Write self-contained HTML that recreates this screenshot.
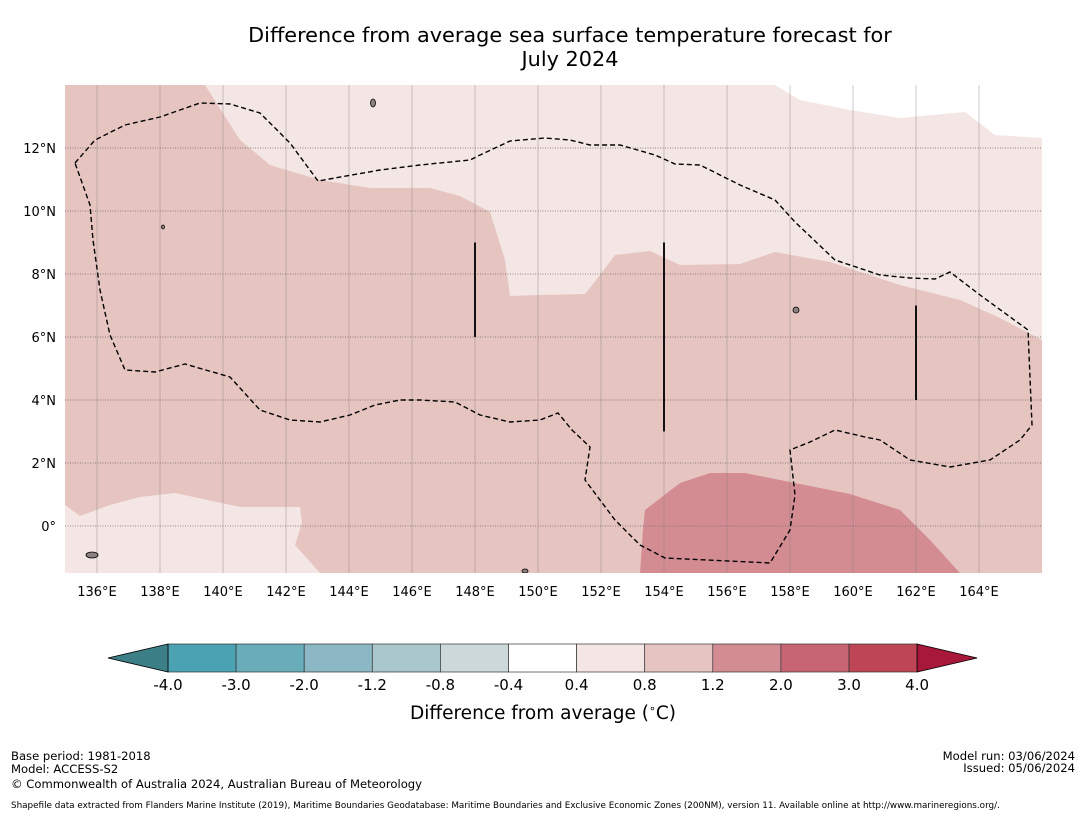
<!DOCTYPE html>
<html><head><meta charset="utf-8"><style>
body{margin:0;background:#fff;font-family:"Liberation Sans","DejaVu Sans",sans-serif;}
svg text{font-family:"DejaVu Sans","Liberation Sans",sans-serif;}
</style></head><body>
<svg id="s" width="1085" height="816" viewBox="0 0 1085 816" xmlns="http://www.w3.org/2000/svg">
<rect width="1085" height="816" fill="#fefefe"/>
<text x="570" y="42" font-size="20.8" text-anchor="middle">Difference from average sea surface temperature forecast for</text>
<text x="570" y="66" font-size="20.8" text-anchor="middle">July 2024</text>
<g id="map"></g>
<g id="cb"></g>
<text x="543" y="719" font-size="18.5" text-anchor="middle">Difference from average (<tspan font-size="11" dy="-7">∘</tspan><tspan dy="7">C)</tspan></text>
<g font-size="11.6">
<text x="11" y="760">Base period: 1981-2018</text>
<text x="11" y="773">Model: ACCESS-S2</text>
<text x="11" y="788">© Commonwealth of Australia 2024, Australian Bureau of Meteorology</text>
<text x="1075" y="760" text-anchor="end">Model run: 03/06/2024</text>
<text x="1075" y="772" text-anchor="end">Issued: 05/06/2024</text>
<text x="11" y="808" font-size="8.8">Shapefile data extracted from Flanders Marine Institute (2019), Maritime Boundaries Geodatabase: Maritime Boundaries and Exclusive Economic Zones (200NM), version 11. Available online at http://www.marineregions.org/.</text>
</g>
</svg>
<script>
const lonTicks=[136,138,140,142,144,146,148,150,152,154,156,158,160,162,164];
const latTicks=[12,10,8,6,4,2,0];
const cbBounds=[-4.0,-3.0,-2.0,-1.2,-0.8,-0.4,0.4,0.8,1.2,2.0,3.0,4.0];
const cbColors=["#4aa2b3","#69adbb","#8bb8c4","#a9c7cc","#cdd8da","#ffffff","#f4e6e4","#e6c5c1","#d48c93","#c86574","#bd4555"];
const X0=65,X1=1042,Y0=85,Y1=573;
const lon=v=>97+(v-136)*31.5;
const lat=v=>526-v*31.5;
const NS="http://www.w3.org/2000/svg";
const map=document.getElementById('map');
function mk(p,tag,attrs){const e=document.createElementNS(NS,tag);for(const k in attrs)e.setAttribute(k,attrs[k]);p.appendChild(e);return e;}
const clip=mk(map,'clipPath',{id:'mc'});mk(clip,'rect',{x:X0,y:Y0,width:X1-X0,height:Y1-Y0});
const g=mk(map,'g',{'clip-path':'url(#mc)'});
let e=mk(g,'rect',{x:X0,y:Y0,width:X1-X0,height:Y1-Y0,fill:'#e6c5c1'});

const pts=a=>a.map(p=>p.join(',')).join(' ');
e=mk(g,'polygon',{fill:'#f4e6e4',points:pts([[205,85],[240,140],[270,165],[320,180],[370,188],[430,188],[460,196],[490,212],[505,260],[510,296],[540,295],[585,294],[600,275],[615,255],[650,251],[680,265],[740,264],[775,252],[830,262],[900,285],[960,300],[1000,318],[1042,340],[1042,85]])});

e=mk(g,'polygon',{fill:'#ffffff',points:pts([[775,85],[800,100],[850,110],[900,118],[965,112],[995,135],[1042,138],[1042,85]])});

e=mk(g,'polygon',{fill:'#f4e6e4',points:pts([[65,505],[80,516],[110,505],[140,497],[175,493],[240,507],[300,507],[302,523],[295,545],[320,573],[65,573]])});

e=mk(g,'polygon',{fill:'#d48c93',points:pts([[645,510],[680,483],[710,473],[745,473],[790,482],[850,494],[900,510],[930,540],[960,573],[640,573],[643,530]])});

lonTicks.forEach(v=>{const l=mk(g,'line',{x1:lon(v),x2:lon(v),y1:Y0,y2:Y1,stroke:'#8a7f80','stroke-width':0.6,opacity:0.7});

const t=mk(map,'text',{x:lon(v),y:596,'font-size':13,'text-anchor':'middle'});t.textContent=v+'°E';
});
latTicks.forEach(v=>{const l=mk(g,'line',{x1:X0,x2:X1,y1:lat(v),y2:lat(v),stroke:'#6e6464','stroke-width':0.7,'stroke-dasharray':'1,1.5'});

const t=mk(map,'text',{x:56,y:lat(v)+5,'font-size':13,'text-anchor':'end'});t.textContent=v===0?'0°':v+'°N';
});
e=mk(g,'polygon',{fill:'none',stroke:'#000','stroke-width':1.4,'stroke-dasharray':'5,3',points:pts([[75,163],[95,140],[125,125],[160,117],[200,103],[230,104],[260,113],[290,143],[318,181],[380,170],[420,165],[470,160],[480,155],[510,141],[545,138],[570,140],[590,145],[620,145],[655,155],[675,164],[700,165],[740,185],[775,200],[795,222],[835,260],[880,275],[910,278],[935,279],[950,272],[980,295],[1028,330],[1032,425],[1020,440],[990,460],[950,467],[910,460],[880,440],[865,437],[835,430],[810,442],[790,450],[795,495],[790,530],[770,563],[665,558],[640,545],[615,520],[585,480],[590,447],[572,430],[558,413],[540,420],[510,422],[480,415],[455,402],[420,400],[400,400],[375,405],[350,415],[320,422],[290,420],[260,410],[230,377],[185,364],[155,372],[125,370],[110,335],[100,290],[93,240],[90,205]])});

[[148,9,6],[154,9,3],[162,7,4]].forEach(a=>{const l=mk(g,'line',{x1:lon(a[0]),x2:lon(a[0]),y1:lat(a[1]),y2:lat(a[2]),stroke:'#111','stroke-width':2});
});
[[373,103,2.5,4],[796,310,3,3],[92,555,6,3],[525,571,3,2],[163,227,1.5,2]].forEach(a=>{const c=mk(g,'ellipse',{cx:a[0],cy:a[1],rx:a[2],ry:a[3],fill:'#8d8080',stroke:'#000','stroke-width':0.8});
});
// colorbar
const cb=document.getElementById('cb');
const cx0=168,cw=68.1,cy=644,ch=28;
cbColors.forEach((c,i)=>{const r=mk(cb,'rect',{x:cx0+i*cw,y:cy,width:cw,height:ch,fill:c,stroke:'#333','stroke-width':0.7});
});
const xe=cx0+cbColors.length*cw;
e=mk(cb,'polygon',{points:`108,${cy+14} ${cx0},${cy} ${cx0},${cy+ch}`,fill:'#3d7f86',stroke:'#000','stroke-width':0.8});

e=mk(cb,'polygon',{points:`${xe+60},${cy+14} ${xe},${cy} ${xe},${cy+ch}`,fill:'#a8183a',stroke:'#000','stroke-width':0.8});

cbBounds.forEach((v,i)=>{const t=mk(cb,'text',{x:cx0+i*cw,y:690,'font-size':15,'text-anchor':'middle'});t.textContent=v.toFixed(1);
});
</script>
</body></html>
